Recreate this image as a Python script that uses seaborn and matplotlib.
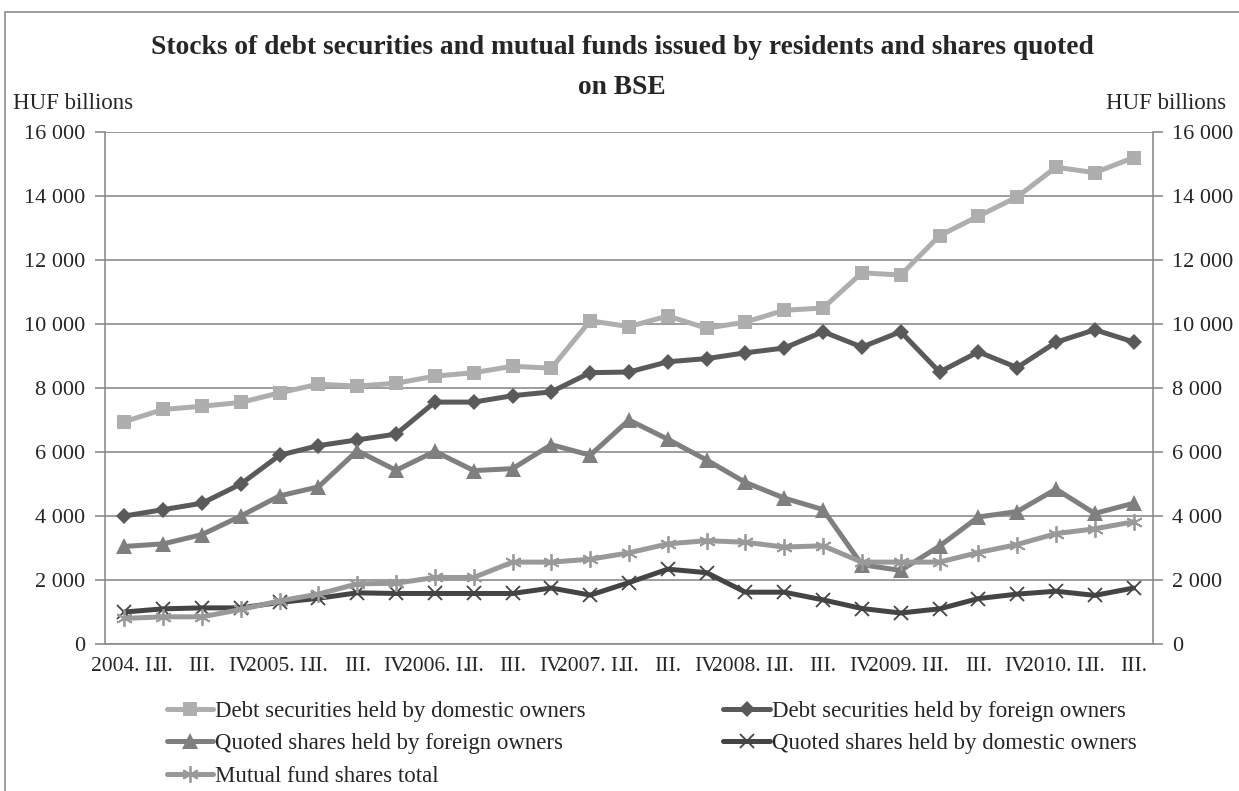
import numpy as np
import pandas as pd
import seaborn as sns
import matplotlib.pyplot as plt
from matplotlib.patches import Rectangle
from matplotlib.ticker import FuncFormatter

# quarterly periods 2004 Q1 - 2010 Q3
periods = ["2004. I.", "II.", "III.", "IV.",
           "2005. I.", "II.", "III.", "IV.",
           "2006. I.", "II.", "III.", "IV.",
           "2007. I.", "II.", "III.", "IV.",
           "2008. I.", "II.", "III.", "IV.",
           "2009. I.", "II.", "III.", "IV.",
           "2010. I.", "II.", "III."]

debt_domestic = [6950, 7330, 7430, 7550, 7850, 8120, 8060, 8150, 8370, 8480, 8680, 8620,
                 10100, 9920, 10250, 9870, 10060, 10430, 10500, 11600, 11530, 12760,
                 13370, 13970, 14900, 14730, 15200]
debt_foreign = [4000, 4200, 4400, 5000, 5900, 6200, 6380, 6560, 7560, 7560, 7760, 7880,
                8480, 8500, 8820, 8920, 9100, 9250, 9760, 9280, 9760, 8500,
                9130, 8640, 9430, 9820, 9440]
shares_foreign = [3050, 3130, 3420, 4000, 4630, 4910, 6040, 5430, 6020, 5420, 5480, 6230,
                  5900, 7000, 6400, 5750, 5050, 4560, 4200, 2480, 2300, 3060,
                  3970, 4140, 4840, 4080, 4400]
shares_domestic = [1000, 1100, 1130, 1130, 1300, 1430, 1600, 1580, 1580, 1580, 1580, 1750,
                   1530, 1920, 2340, 2230, 1620, 1620, 1380, 1110, 970, 1100,
                   1420, 1560, 1650, 1520, 1750]
mutual_funds = [800, 850, 850, 1080, 1350, 1560, 1880, 1900, 2080, 2080, 2560, 2560,
                2650, 2850, 3130, 3230, 3180, 3030, 3070, 2560, 2560, 2560,
                2860, 3110, 3450, 3600, 3820]

series_names = ["Debt securities held by domestic owners",
                "Debt securities held by foreign owners",
                "Quoted shares held by foreign owners",
                "Quoted shares held by domestic owners",
                "Mutual fund shares total"]
series_vals = [debt_domestic, debt_foreign, shares_foreign, shares_domestic, mutual_funds]

sns.set_theme(style="white")
plt.rcParams['font.family'] = ['Liberation Serif', 'DejaVu Serif']

df = pd.DataFrame({"pos": np.arange(len(periods))})
for name, vals in zip(series_names, series_vals):
    df[name] = vals

# style per series: colour, marker, size, edge width
styles = {
    series_names[0]: dict(color="#aeaeae", marker="s", ms=10, mew=0),
    series_names[1]: dict(color="#5a5a5a", marker="D", ms=8.5, mew=0),
    series_names[2]: dict(color="#7f7f7f", marker="^", ms=11, mew=0),
    series_names[3]: dict(color="#444444", marker="x", ms=10, mew=1.3),
    series_names[4]: dict(color="#999999", marker=(6, 2, 0), ms=12, mew=1.3),
}

fig = plt.figure(figsize=(12.39, 7.91), dpi=100)
ax = fig.add_axes([0.0847, 0.1858, 0.8459, 0.6473])

for name in series_names:
    st = styles[name]
    sns.lineplot(data=df, x="pos", y=name, ax=ax, color=st["color"], marker=st["marker"],
                 markersize=st["ms"], markeredgewidth=st["mew"],
                 markeredgecolor=st["color"], linewidth=3.6, label=name)

ax.set_xlim(-0.5, len(periods) - 0.5)
ax.set_ylim(0, 16000)
ax.set_yticks(np.arange(0, 16001, 2000))
fmt = FuncFormatter(lambda v, p: f"{int(v):,}".replace(",", " "))
ax.yaxis.set_major_formatter(fmt)
ax.yaxis.grid(True, color="#8c8c8c", linewidth=1.2)
ax.set_xlabel("")
ax.set_ylabel("")

# category boundary ticks, labels at category centres
ax.set_xticks(np.arange(-0.5, len(periods), 1))
ax.set_xticklabels([])
ax.set_xticks(np.arange(len(periods)), minor=True)
ax.set_xticklabels(periods, minor=True, fontsize=15.5)
ax.tick_params(axis="x", which="major", direction="in", length=7, width=1.2, color="#8c8c8c")
ax.tick_params(axis="x", which="minor", length=0, pad=9)
ax.tick_params(axis="y", direction="out", length=7, width=1.2, color="#8c8c8c",
               labelsize=16, pad=7, left=True)

for side in ["left", "right", "bottom"]:
    ax.spines[side].set_color("#8c8c8c")
    ax.spines[side].set_linewidth(1.2)
ax.spines["top"].set_visible(False)

ax2 = ax.twinx()
ax2.set_ylim(ax.get_ylim())
ax2.set_yticks(np.arange(0, 16001, 2000))
ax2.yaxis.set_major_formatter(fmt)
ax2.tick_params(axis="y", direction="out", length=7, width=1.2, color="#8c8c8c",
                labelsize=16, pad=7, right=True)
for s in ax2.spines.values():
    s.set_visible(False)

# legend below, two columns (column-wise fill)
handles, labels = ax.get_legend_handles_labels()
ax.legend_.remove()
order = [0, 2, 4, 1, 3]
fig.legend([handles[i] for i in order], [labels[i] for i in order],
           loc="upper left", bbox_to_anchor=(0.127, 0.126), ncol=2, frameon=False,
           fontsize=16.5, handlelength=2.05, handletextpad=0.08, columnspacing=6.0,
           labelspacing=0.5, borderaxespad=0)

fig.text(0.502, 0.915, "Stocks of debt securities and mutual funds issued by residents and shares quoted\non BSE",
         ha="center", va="center", fontsize=19.8, fontweight="bold", linespacing=1.8)
fig.text(0.0105, 0.869, "HUF billions", ha="left", va="center", fontsize=16.5)
fig.text(0.99, 0.869, "HUF billions", ha="right", va="center", fontsize=16.5)

# outer chart frame
fig.patches.append(Rectangle((0.004, -0.05), 1.1, 1.035, transform=fig.transFigure,
                             fill=False, edgecolor="#8c8c8c", linewidth=1.2))

fig.savefig("out.png", dpi=100)
